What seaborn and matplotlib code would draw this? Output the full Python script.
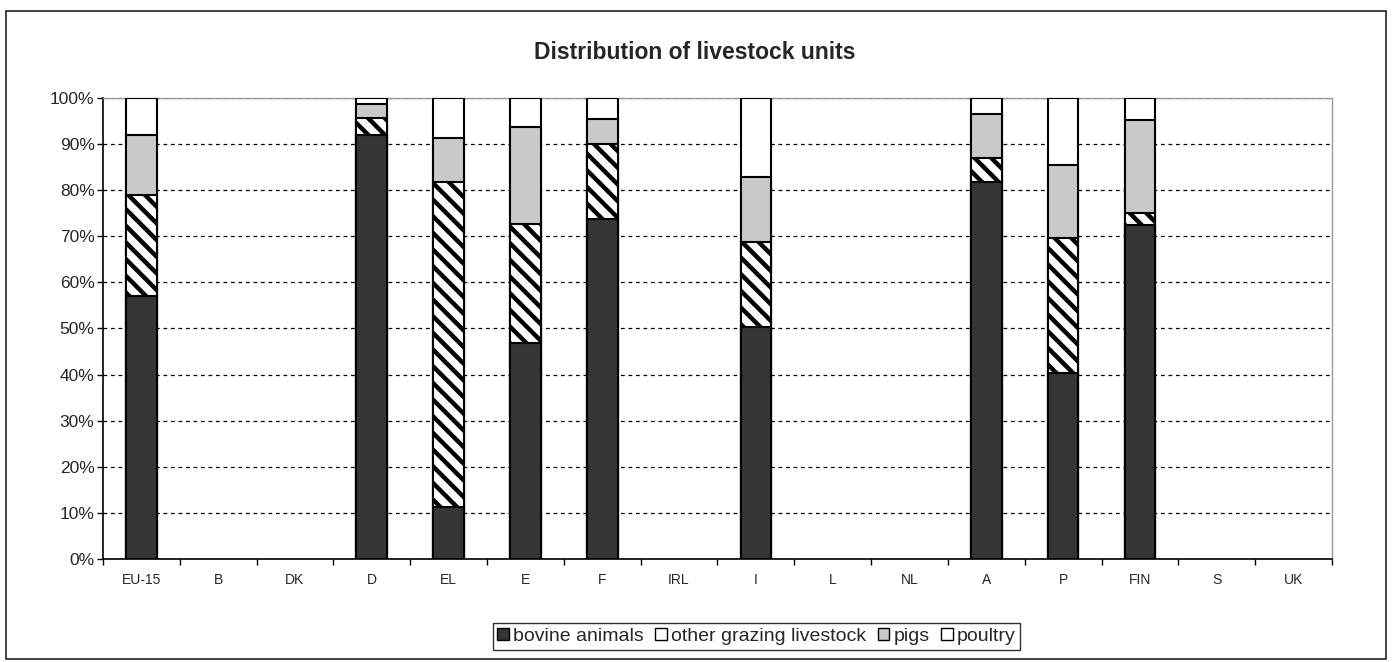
import numpy as np
import pandas as pd
import matplotlib
matplotlib.use("Agg")
import matplotlib.pyplot as plt
import seaborn as sns
from matplotlib.patches import Rectangle, Patch
from matplotlib.ticker import PercentFormatter

categories = ["EU-15", "B", "DK", "D", "EL", "E", "F", "IRL", "I", "L", "NL", "A", "P", "FIN", "S", "UK"]
countries = ["EU-15", "D", "EL", "E", "F", "I", "A", "P", "FIN"]
bovine = [57.0, 92.0, 11.3, 46.8, 73.7, 50.4, 81.8, 40.4, 72.5]
other_grazing = [22.0, 3.6, 70.5, 25.8, 16.3, 18.3, 5.2, 29.2, 2.6]
pigs = [13.0, 3.0, 9.6, 21.2, 5.4, 14.2, 9.5, 15.9, 20.1]
poultry = [8.0, 1.4, 8.6, 6.2, 4.6, 17.1, 3.5, 14.5, 4.8]
series_names = ["bovine animals", "other grazing livestock", "pigs", "poultry"]

sns.set_theme(style="white")
plt.rcParams["font.family"] = ["Liberation Sans", "DejaVu Sans"]
plt.rcParams["hatch.linewidth"] = 3.2
plt.rcParams["hatch.color"] = "black"

df = pd.DataFrame({"country": countries, "bovine": bovine, "other": other_grazing,
                   "pigs": pigs, "poultry": poultry})
df["c1"] = df["bovine"]
df["c2"] = df["c1"] + df["other"]
df["c3"] = df["c2"] + df["pigs"]
df["c4"] = df["c3"] + df["poultry"]

fig = plt.figure(figsize=(13.93, 6.62), dpi=100)
fig.patch.set_facecolor("white")
fig.add_artist(Rectangle((0.004, 0.004), 0.991, 0.98, transform=fig.transFigure,
                         fill=False, edgecolor="#222222", linewidth=1.2))
ax = fig.add_axes([0.0739, 0.1556, 0.8823, 0.6964])

layers = [("c4", "white", None), ("c3", "#c9c9c9", None), ("c2", "white", "\\\\"), ("c1", "#353535", None)]
for col, color, hatch in layers:
    sns.barplot(data=df, x="country", y=col, order=categories, color=color,
                edgecolor="black", linewidth=1.5, width=0.4, hatch=hatch,
                saturation=1, ax=ax, zorder=3)

ax.set_ylim(0, 100)
ax.set_xlim(-0.5, len(categories) - 0.5)
ax.set_yticks(np.arange(0, 101, 10))
ax.yaxis.set_major_formatter(PercentFormatter(decimals=0))
ax.yaxis.grid(True, linestyle=(0, (3, 3)), color="black", linewidth=0.9, zorder=0)
ax.set_axisbelow(True)
ax.set_xlabel("")
ax.set_ylabel("")
ax.tick_params(axis="y", labelsize=12.5, length=4, left=True, width=1, color="black", pad=2)
ax.tick_params(axis="x", labelsize=10, length=0, pad=10)
ax.set_xticks(np.arange(-0.5, len(categories), 1), minor=True)
ax.tick_params(axis="x", which="minor", length=4, bottom=True, color="black", width=1)
for s in ["left", "bottom"]:
    ax.spines[s].set_color("black")
    ax.spines[s].set_linewidth(1.2)
for s in ["top", "right"]:
    ax.spines[s].set_color("#999999")
    ax.spines[s].set_linewidth(1.0)

fig.text(0.499, 0.921, "Distribution of livestock units", ha="center", va="center",
         fontsize=16.5, fontweight="bold")

handles = [Patch(facecolor="#353535", edgecolor="black"),
           Patch(facecolor="white", edgecolor="black"),
           Patch(facecolor="#c9c9c9", edgecolor="black"),
           Patch(facecolor="white", edgecolor="black")]
leg = fig.legend(handles, series_names, loc="center", bbox_to_anchor=(0.5430, 0.039),
                 ncol=4, frameon=True, fontsize=14, handlelength=0.6, handleheight=0.6,
                 handletextpad=0.2, columnspacing=0.6, borderpad=0.25, fancybox=False)
leg.get_frame().set_edgecolor("black")
leg.get_frame().set_linewidth(1.0)

fig.savefig("out.png", dpi=100)
